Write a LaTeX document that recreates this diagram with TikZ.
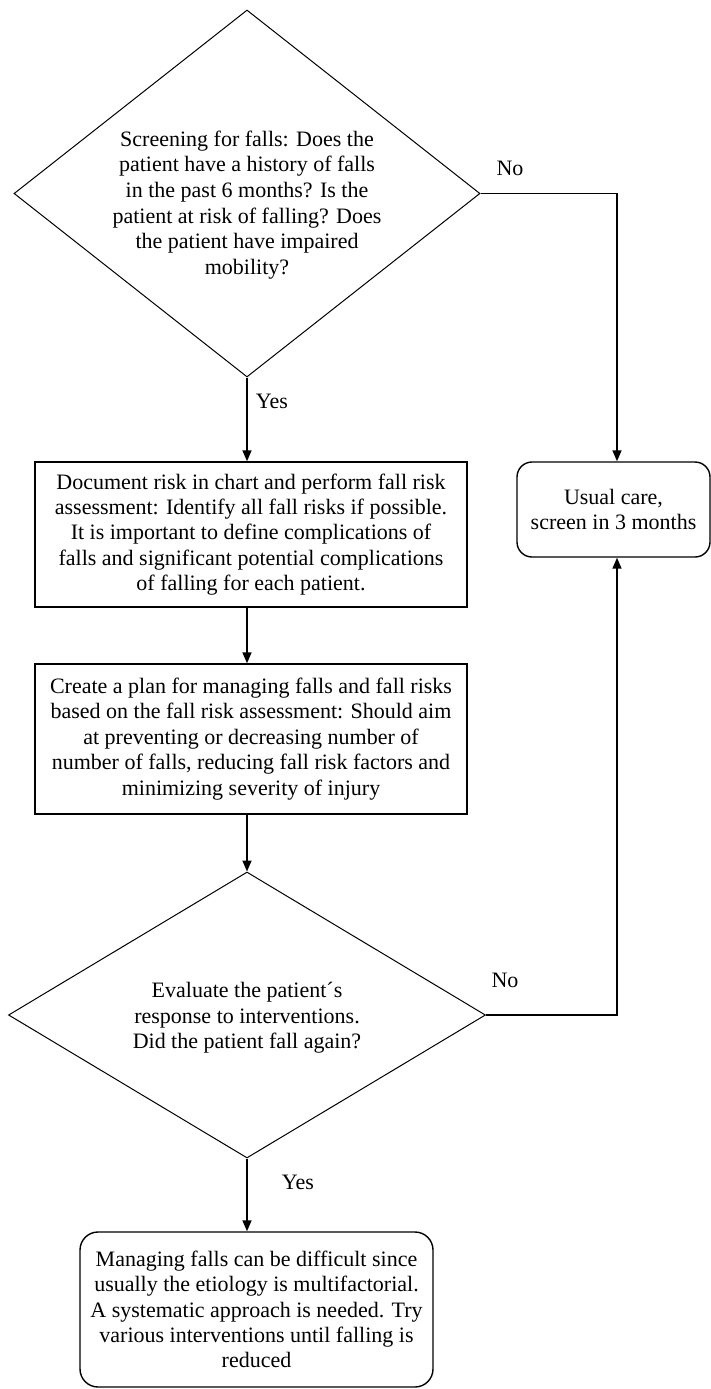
\documentclass[tikz,border=0pt]{standalone}
\usepackage{fontspec}
\setmainfont{Liberation Serif}
\usetikzlibrary{shapes.geometric,arrows.meta}
\begin{document}
\begin{tikzpicture}[x=1pt,y=-1pt,
  txt/.style={align=center,font=\fontsize{22}{25.6}\selectfont,inner sep=0pt},
  dia/.style={draw,line width=1pt,diamond,inner sep=0pt},
  boxst/.style={draw,line width=1.4pt,rectangle,inner sep=0pt,align=center,font=\fontsize{22}{25.4}\selectfont},
  rbox/.style={boxst,rounded corners=18pt},
  conn/.style={line width=1.6pt},
  arr/.style={conn,-{Triangle[length=11pt,width=9pt]}},
  lab/.style={font=\fontsize{22}{24}\selectfont,inner sep=0pt}]
\useasboundingbox (0,0) rectangle (711,1389);
% decision 1
\node[dia,minimum width=466pt,minimum height=367pt] (d1) at (247,193.5) {};
\node[txt] (d1t) at (247,205) {Screening for falls: Does the\\patient have a history of falls\\in the past 6 months? Is the\\patient at risk of falling? Does\\the patient have impaired\\mobility?};
% box 1
\node[boxst,minimum width=432pt,minimum height=145pt] (b1) at (251,534.5) {Document risk in chart and perform fall risk\\assessment: Identify all fall risks if possible.\\It is important to define complications of\\falls and significant potential complications\\of falling for each patient.};
% box 2
\node[boxst,minimum width=432pt,minimum height=150pt] (b2) at (251,739) {Create a plan for managing falls and fall risks\\based on the fall risk assessment: Should aim\\at preventing or decreasing number of\\number of falls, reducing fall risk factors and\\minimizing severity of injury};
% usual care
\node[rbox,rounded corners=15pt,minimum width=193pt,minimum height=95pt] (uc) at (613.5,509.5) {Usual care,\\screen in 3 months};
% decision 2
\node[dia,minimum width=477pt,minimum height=286pt] (d2) at (247,1015) {};
\node[txt] (d2t) at (247,1018) {Evaluate the patient´s\\response to interventions.\\Did the patient fall again?};
% final box
\node[rbox,minimum width=353pt,minimum height=155pt] (fb) at (256.5,1309.5) {Managing falls can be difficult since\\usually the etiology is multifactorial.\\A systematic approach is needed. Try\\various interventions until falling is\\reduced};
% corner coordinates
\coordinate (c1) at (617,193.5);
\coordinate (c2) at (617,1015);
% connectors
\draw[arr] (d1.south) -- (d1.south |- b1.north);
\draw[arr] (b1.south -| d1.south) -- (d1.south |- b2.north);
\draw[arr] (b2.south -| d1.south) -- (d2.north);
\draw[arr] (d2.south) -- (d2.south |- fb.north);
\draw[arr] (d1.east) -- (c1) -- (c1 |- uc.north);
\draw[arr] (d2.east) -- (c2) -- (c2 |- uc.south);
% labels
\node[lab] (no1) at (510,168) {No};
\node[lab] (yes1) at (272,401) {Yes};
\node[lab] (no2) at (505,980) {No};
\node[lab] (yes2) at (298,1182) {Yes};
\end{tikzpicture}
\end{document}
